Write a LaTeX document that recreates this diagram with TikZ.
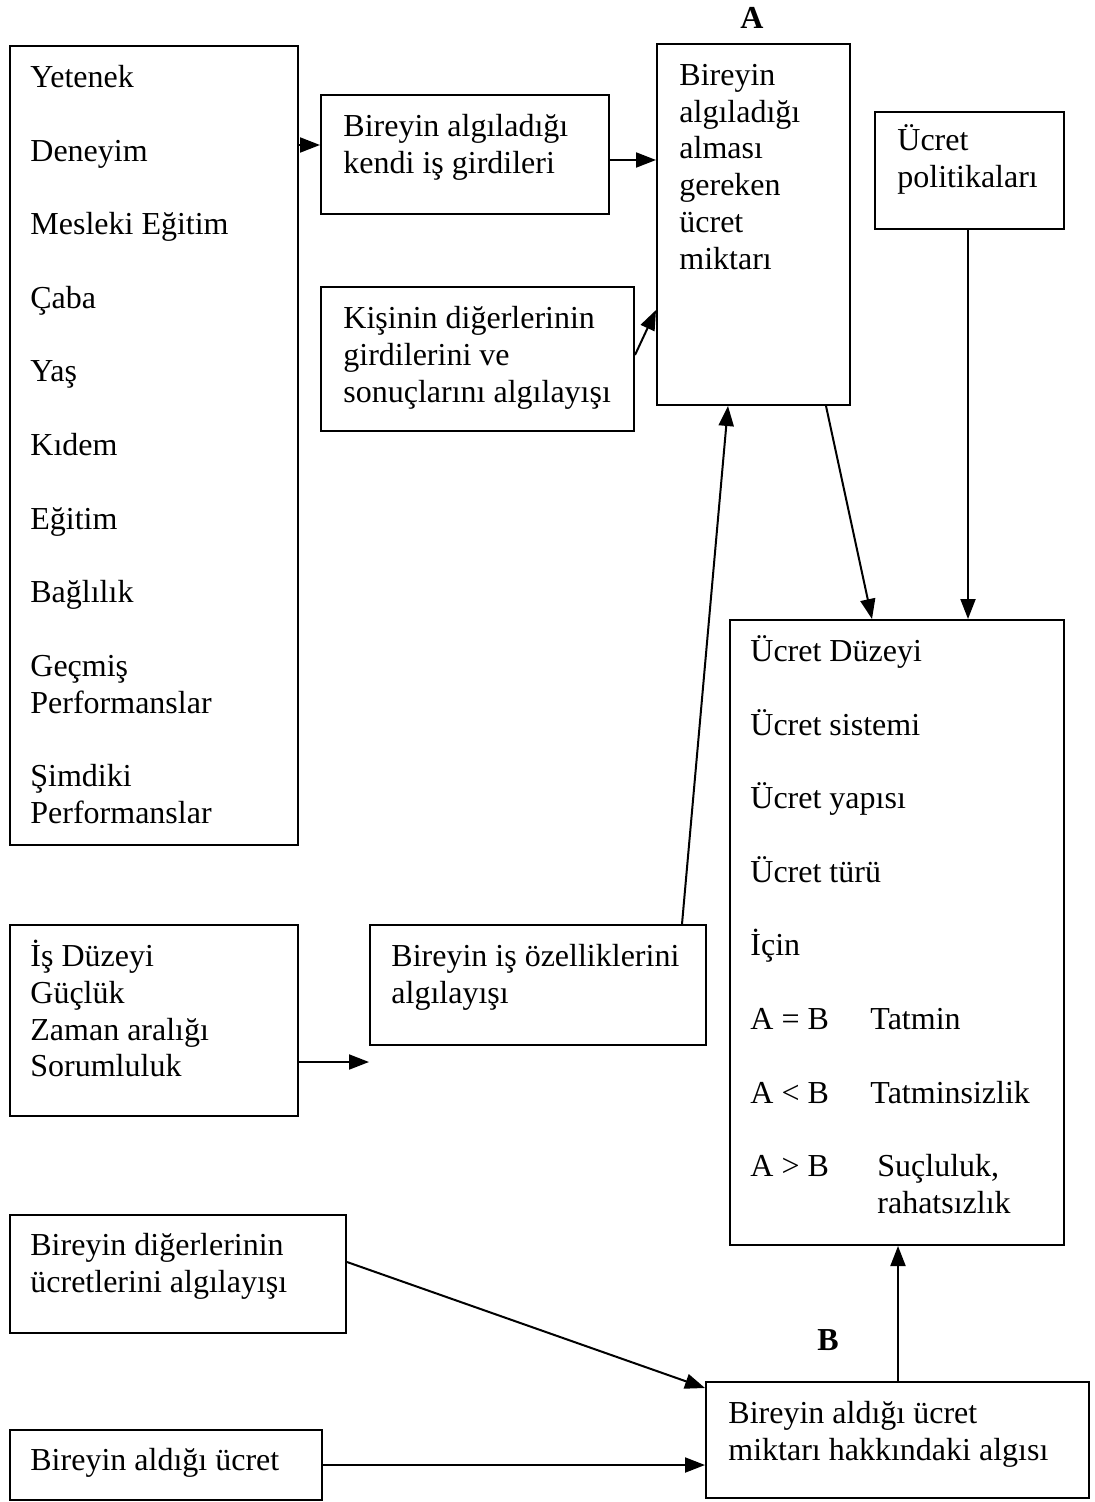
\documentclass[tikz,border=0pt]{standalone}
\usepackage{fontspec}
\setmainfont{Liberation Serif}
\usetikzlibrary{arrows.meta}

% invisible strut fixing the distance from a text node's top to its first baseline
\newcommand{\toprule}{\rule{0pt}{15pt}}

\begin{document}
\begin{tikzpicture}[x=0.5pt,y=-0.5pt,
  box/.style={draw, line width=1pt, inner sep=0pt, fill=none},
  txt/.style={anchor=north west, align=left, inner sep=0pt,
    font=\fontsize{16pt}{18.4pt}\selectfont},
  lbl/.style={inner sep=0pt, font=\fontsize{16pt}{18.4pt}\selectfont\bfseries},
  conn/.style={line width=1pt, -{Triangle[length=10pt,width=7.5pt]}}]

\useasboundingbox (0,0) rectangle (1094,1502);

% boxes
\node[box, minimum width=144pt, minimum height=399.5pt] (lb) at (154,445.5) {};
\node[box, minimum width=144pt, minimum height=59.5pt] (kg) at (465,154.5) {};
\node[box, minimum width=156.5pt, minimum height=72pt] (kd) at (477.5,359) {};
\node[box, minimum width=96.5pt, minimum height=180.5pt] (ba) at (753.5,224.5) {};
\node[box, minimum width=94.5pt, minimum height=58.5pt] (up) at (969.5,170.5) {};
\node[box, minimum width=167pt, minimum height=312.5pt] (rb) at (897,932.5) {};
\node[box, minimum width=144pt, minimum height=95.5pt] (id) at (154,1020.5) {};
\node[box, minimum width=168pt, minimum height=60pt] (io) at (538,985) {};
\node[box, minimum width=168pt, minimum height=59pt] (bd) at (178,1274) {};
\node[box, minimum width=156pt, minimum height=35pt] (au) at (166,1465) {};
\node[box, minimum width=191.5pt, minimum height=58pt] (bb) at (897.5,1440) {};

% texts (each placed 30 units above its first baseline)
\node[txt] (lbt) at (30,57) {\toprule Yetenek\\[18.4pt] Deneyim\\[18.4pt] Mesleki Eğitim\\[18.4pt] Çaba\\[18.4pt] Yaş\\[18.4pt] Kıdem\\[18.4pt] Eğitim\\[18.4pt] Bağlılık\\[18.4pt] Geçmiş\\ Performanslar\\[18.4pt] Şimdiki\\ Performanslar};
\node[txt] (kgt) at (343,106) {\toprule Bireyin algıladığı\\ kendi iş girdileri};
\node[txt] (kdt) at (343,298) {\toprule Kişinin diğerlerinin\\ girdilerini ve\\ sonuçlarını algılayışı};
\node[txt] (bat) at (679,55) {\toprule Bireyin\\ algıladığı\\ alması\\ gereken\\ ücret\\ miktarı};
\node[txt] (upt) at (897,120) {\toprule Ücret\\ politikaları};
\node[txt] (rbt) at (750,631) {\toprule Ücret Düzeyi\\[18.4pt] Ücret sistemi\\[18.4pt] Ücret yapısı\\[18.4pt] Ücret türü\\[18.4pt] İçin\\[18.4pt]
  \makebox[60pt][l]{A = B}Tatmin\\[18.4pt]
  \makebox[60pt][l]{A < B}Tatminsizlik\\[18.4pt]
  \makebox[63.5pt][l]{A > B}Suçluluk,\\
  \hspace*{63.5pt}rahatsızlık};
\node[txt] (idt) at (30,936) {\toprule İş Düzeyi\\ Güçlük\\ Zaman aralığı\\ Sorumluluk};
\node[txt] (iot) at (391,936) {\toprule Bireyin iş özelliklerini\\ algılayışı};
\node[txt] (bdt) at (30,1225) {\toprule Bireyin diğerlerinin\\ ücretlerini algılayışı};
\node[txt] (aut) at (30,1440) {\toprule Bireyin aldığı ücret};
\node[txt] (bbt) at (728,1393) {\toprule Bireyin aldığı ücret\\ miktarı hakkındaki algısı};

% labels
\node[lbl] (la) at (752,18) {A};
\node[lbl] (lbB) at (828,1340) {B};

% connectors
\draw[conn] (lb.east |- 0,145) -- (kg.west |- 0,145);
\draw[conn] (kg.east |- 0,160) -- (ba.west |- 0,160);
\draw[conn] (kd.east |- 0,355) -- (ba.west |- 0,310);
\draw[conn] (io.north -| 682,0) -- (ba.south -| 728,0);
\draw[conn] (ba.south -| 826,0) -- (rb.north -| 872,0);
\draw[conn] (up.south -| 968,0) -- (rb.north -| 968,0);
\draw[conn] (id.east |- 0,1062) -- (io.west |- 0,1062);
\draw[conn] (bd.east |- 0,1262) -- (bb.west |- 0,1388);
\draw[conn] (au.east |- 0,1465) -- (bb.west |- 0,1465);
\draw[conn] (bb.north -| 898,0) -- (rb.south -| 898,0);

\end{tikzpicture}
\end{document}
